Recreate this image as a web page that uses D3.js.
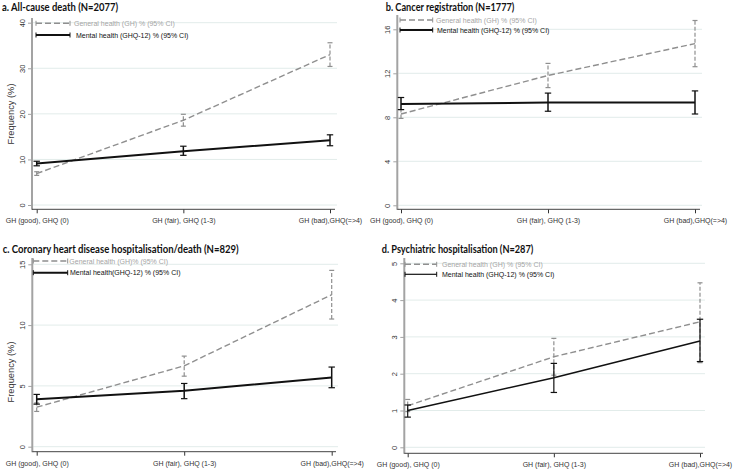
<!DOCTYPE html>
<html><head><meta charset="utf-8">
<script src="https://cdn.jsdelivr.net/npm/d3@7"></script>
<style>
html,body{margin:0;padding:0;background:#fff;}
svg{display:block;}
</style></head>
<body>
<svg id="chart" width="735" height="470" font-family="Liberation Sans, Arial, sans-serif"></svg>
<script>
// ---------- data ----------
const categories = ["GH (good), GHQ (0)", "GH (fair), GHQ (1-3)", "GH (bad),GHQ(=>4)"];

const titles = [
  "a. All-cause death (N=2077)",
  "b. Cancer registration (N=1777)",
  "c. Coronary heart disease hospitalisation/death (N=829)",
  "d. Psychiatric hospitalisation (N=287)"
];
const legendGH = ["General health (GH) % (95% CI)", "General health (GH) % (95% CI)", "General health (GH)% (95% CI)", "General health (GH) % (95% CI)"];
const legendMH = ["Mental health (GHQ-12) % (95% CI)", "Mental health (GHQ-12) % (95% CI)", "Mental health(GHQ-12) % (95% CI)", "Mental health (GHQ-12) % (95% CI)"];
const yTitle = "Frequency (%)";

const ticksA = [0, 10, 20, 30, 40];
const ticksB = [0, 4, 8, 12, 16];
const ticksC = [0, 5, 10, 15];
const ticksD = [0, 1, 2, 3, 4, 5];

// a. All-cause death
const ghA = [6.9, 18.6, 33.0], ghA_lo = [6.5, 17.3, 30.4], ghA_hi = [7.3, 19.9, 35.6];
const mhA = [9.1, 11.8, 14.2], mhA_lo = [8.6, 10.9, 13.0], mhA_hi = [9.6, 12.9, 15.4];
// b. Cancer registration
const ghB = [8.3, 11.8, 14.7], ghB_lo = [7.9, 10.7, 12.6], ghB_hi = [8.7, 12.9, 16.8];
const mhB = [9.2, 9.35, 9.35], mhB_lo = [8.7, 8.55, 8.3], mhB_hi = [9.8, 10.2, 10.4];
// c. Coronary heart disease
const ghC = [3.25, 6.65, 12.5], ghC_lo = [2.9, 5.8, 10.5], ghC_hi = [3.6, 7.45, 14.5];
const mhC = [3.9, 4.6, 5.7], mhC_lo = [3.5, 3.95, 4.85], mhC_hi = [4.3, 5.2, 6.55];
// d. Psychiatric hospitalisation
const ghD = [1.13, 2.46, 3.41], ghD_lo = [0.97, 1.96, 2.3], ghD_hi = [1.3, 2.96, 4.47];
const mhD = [1.0, 1.89, 2.89], mhD_lo = [0.82, 1.49, 2.33], mhD_hi = [1.15, 2.28, 3.48];

// ---------- layout ----------
const panels = [
  {title: titles[0], ticks: ticksA, gh: [ghA, ghA_lo, ghA_hi], mh: [mhA, mhA_lo, mhA_hi],
   ax: 32, yTopPx: 22.7, y0Px: 205, axTop: 18, xAxisY: 209.3, xEnd: 335, c0: 36.7, c2: 330,
   tx: 2, ty: 11, tw: 116, showY: true, yTitleY: 114,
   lg: {x1: 36, x2: 70, y1: 23.3, y2: 35, t1: 74, t2: 76}, mhW: 2, mhLegW: 2},
  {title: titles[1], ticks: ticksB, gh: [ghB, ghB_lo, ghB_hi], mh: [mhB, mhB_lo, mhB_hi],
   ax: 397.3, yTopPx: 29.3, y0Px: 205.3, axTop: 15, xAxisY: 209.3, xEnd: 700, c0: 401, c2: 695,
   tx: 385.7, ty: 11, tw: 128.7, showY: false,
   lg: {x1: 400, x2: 432.7, y1: 20, y2: 30, t1: 436, t2: 437}, mhW: 2, mhLegW: 2},
  {title: titles[2], ticks: ticksC, gh: [ghC, ghC_lo, ghC_hi], mh: [mhC, mhC_lo, mhC_hi],
   ax: 32.3, yTopPx: 264.3, y0Px: 446.7, axTop: 258, xAxisY: 451.7, xEnd: 336, c0: 36.7, c2: 331.7,
   tx: 2.7, ty: 253, tw: 236, showY: true, yTitleY: 372,
   lg: {x1: 33.3, x2: 67.7, y1: 261, y2: 272.7, t1: 69.3, t2: 70}, mhW: 2, mhLegW: 2},
  {title: titles[3], ticks: ticksD, gh: [ghD, ghD_lo, ghD_hi], mh: [mhD, mhD_lo, mhD_hi],
   ax: 404.3, yTopPx: 263.3, y0Px: 447.3, axTop: 258, xAxisY: 453.3, xEnd: 703, c0: 407.7, c2: 700,
   tx: 381.7, ty: 253, tw: 151.6, showY: false,
   lg: {x1: 405, x2: 436.7, y1: 264.3, y2: 274.3, t1: 442, t2: 442}, mhW: 1.5, mhLegW: 1.2}
];

const GH_COLOR = "#8f8f8f";
const MH_COLOR = "#111";
const GRID = "#e2ecea";
const AXIS_GRAY = "#a3a3a3";

const svg = d3.select("#chart");

panels.forEach((p, i) => {
  const g = svg.append("g");
  const yMax = p.ticks[p.ticks.length - 1];
  const y = d3.scaleLinear().domain([0, yMax]).range([p.y0Px, p.yTopPx]);
  const x = d3.scalePoint().domain(categories).range([p.c0, p.c2]).padding(0);

  // gridlines
  g.append("g").selectAll("line").data(p.ticks).join("line")
    .attr("x1", p.ax + 1).attr("x2", p.xEnd + 2)
    .attr("y1", d => y(d)).attr("y2", d => y(d))
    .attr("stroke", GRID).attr("stroke-width", 1);

  // y axis
  const yAx = g.append("g").attr("transform", `translate(${p.ax},0)`)
    .call(d3.axisLeft(y).tickValues(p.ticks).tickSize(4).tickFormat(d3.format("d")));
  yAx.attr("font-family", null).attr("font-size", null);
  yAx.select(".domain").remove();
  yAx.selectAll(".tick line").attr("stroke", AXIS_GRAY).attr("stroke-width", 1);
  yAx.selectAll(".tick text")
    .attr("transform", "rotate(-90)")
    .attr("x", 0).attr("y", -9.5).attr("dy", "0.35em")
    .attr("text-anchor", "middle")
    .attr("font-size", 7.5).attr("fill", "#333");
  g.append("line").attr("x1", p.ax).attr("x2", p.ax)
    .attr("y1", p.axTop).attr("y2", p.xAxisY + 0.5)
    .attr("stroke", AXIS_GRAY).attr("stroke-width", 2);

  // x axis
  const xAx = g.append("g").attr("transform", `translate(0,${p.xAxisY})`)
    .call(d3.axisBottom(x).tickSize(4).tickSizeOuter(0));
  xAx.attr("font-family", null).attr("font-size", null);
  xAx.select(".domain").remove();
  xAx.selectAll(".tick line").attr("stroke", "#333").attr("stroke-width", 1);
  xAx.selectAll(".tick text").attr("y", 0).attr("dy", 0)
    .attr("transform", "translate(0,14)")
    .attr("font-size", 7).attr("fill", "#333");
  g.append("line").attr("x1", p.ax).attr("x2", p.xEnd)
    .attr("y1", p.xAxisY).attr("y2", p.xAxisY)
    .attr("stroke", "#444").attr("stroke-width", 1);

  // title
  g.append("text").attr("x", p.tx).attr("y", p.ty)
    .style("font-family", "Lato, 'Open Sans', sans-serif").attr("font-weight", "bold")
    .attr("font-size", 11.5).attr("fill", "#111")
    .attr("textLength", p.tw).attr("lengthAdjust", "spacingAndGlyphs")
    .text(p.title);

  if (p.showY) {
    g.append("text").attr("transform", `translate(${10.5},${p.yTitleY}) rotate(-90)`)
      .attr("text-anchor", "middle").attr("dominant-baseline", "central")
      .attr("font-size", 9.3).attr("fill", "#333").text(yTitle);
  }

  const line = d3.line().x((d, k) => x(categories[k])).y(d => y(d));

  function series(vals, color, width, dash, capW) {
    const [m, lo, hi] = vals;
    const s = g.append("g");
    s.append("path").datum(m).attr("d", line).attr("fill", "none")
      .attr("stroke", color).attr("stroke-width", width)
      .attr("stroke-dasharray", dash);
    const eb = s.selectAll("g.eb").data(categories).join("g");
    eb.append("line").attr("x1", c => x(c)).attr("x2", c => x(c))
      .attr("y1", (c, k) => y(lo[k])).attr("y2", (c, k) => y(hi[k]))
      .attr("stroke", color).attr("stroke-width", width === 2 ? 1.5 : 1.2)
      .attr("stroke-dasharray", dash ? "4,2" : null);
    [lo, hi].forEach(arr => {
      eb.append("line").attr("x1", c => x(c) - capW).attr("x2", c => x(c) + capW)
        .attr("y1", (c, k) => y(arr[k])).attr("y2", (c, k) => y(arr[k]))
        .attr("stroke", color).attr("stroke-width", 1.2);
    });
  }
  series(p.gh, GH_COLOR, 1.4, "6,3", 2.5);
  series(p.mh, MH_COLOR, p.mhW, null, 3.2);

  // legend
  const lg = p.lg;
  function legendRow(yy, color, dash, w, tx, label, tcolor) {
    g.append("line").attr("x1", lg.x1).attr("x2", lg.x2).attr("y1", yy).attr("y2", yy)
      .attr("stroke", color).attr("stroke-width", w).attr("stroke-dasharray", dash);
    [lg.x1, lg.x2].forEach(xx => g.append("line").attr("x1", xx).attr("x2", xx)
      .attr("y1", yy - 2.5).attr("y2", yy + 2.5).attr("stroke", color).attr("stroke-width", 1));
    g.append("text").attr("x", tx).attr("y", yy + 2.5).attr("font-size", 7)
      .attr("fill", tcolor).text(label);
  }
  legendRow(lg.y1, GH_COLOR, "6,3", 1.4, lg.t1, legendGH[i], "#a5a5a5");
  legendRow(lg.y2, MH_COLOR, null, p.mhLegW, lg.t2, legendMH[i], "#111");
});
</script>
</body></html>
